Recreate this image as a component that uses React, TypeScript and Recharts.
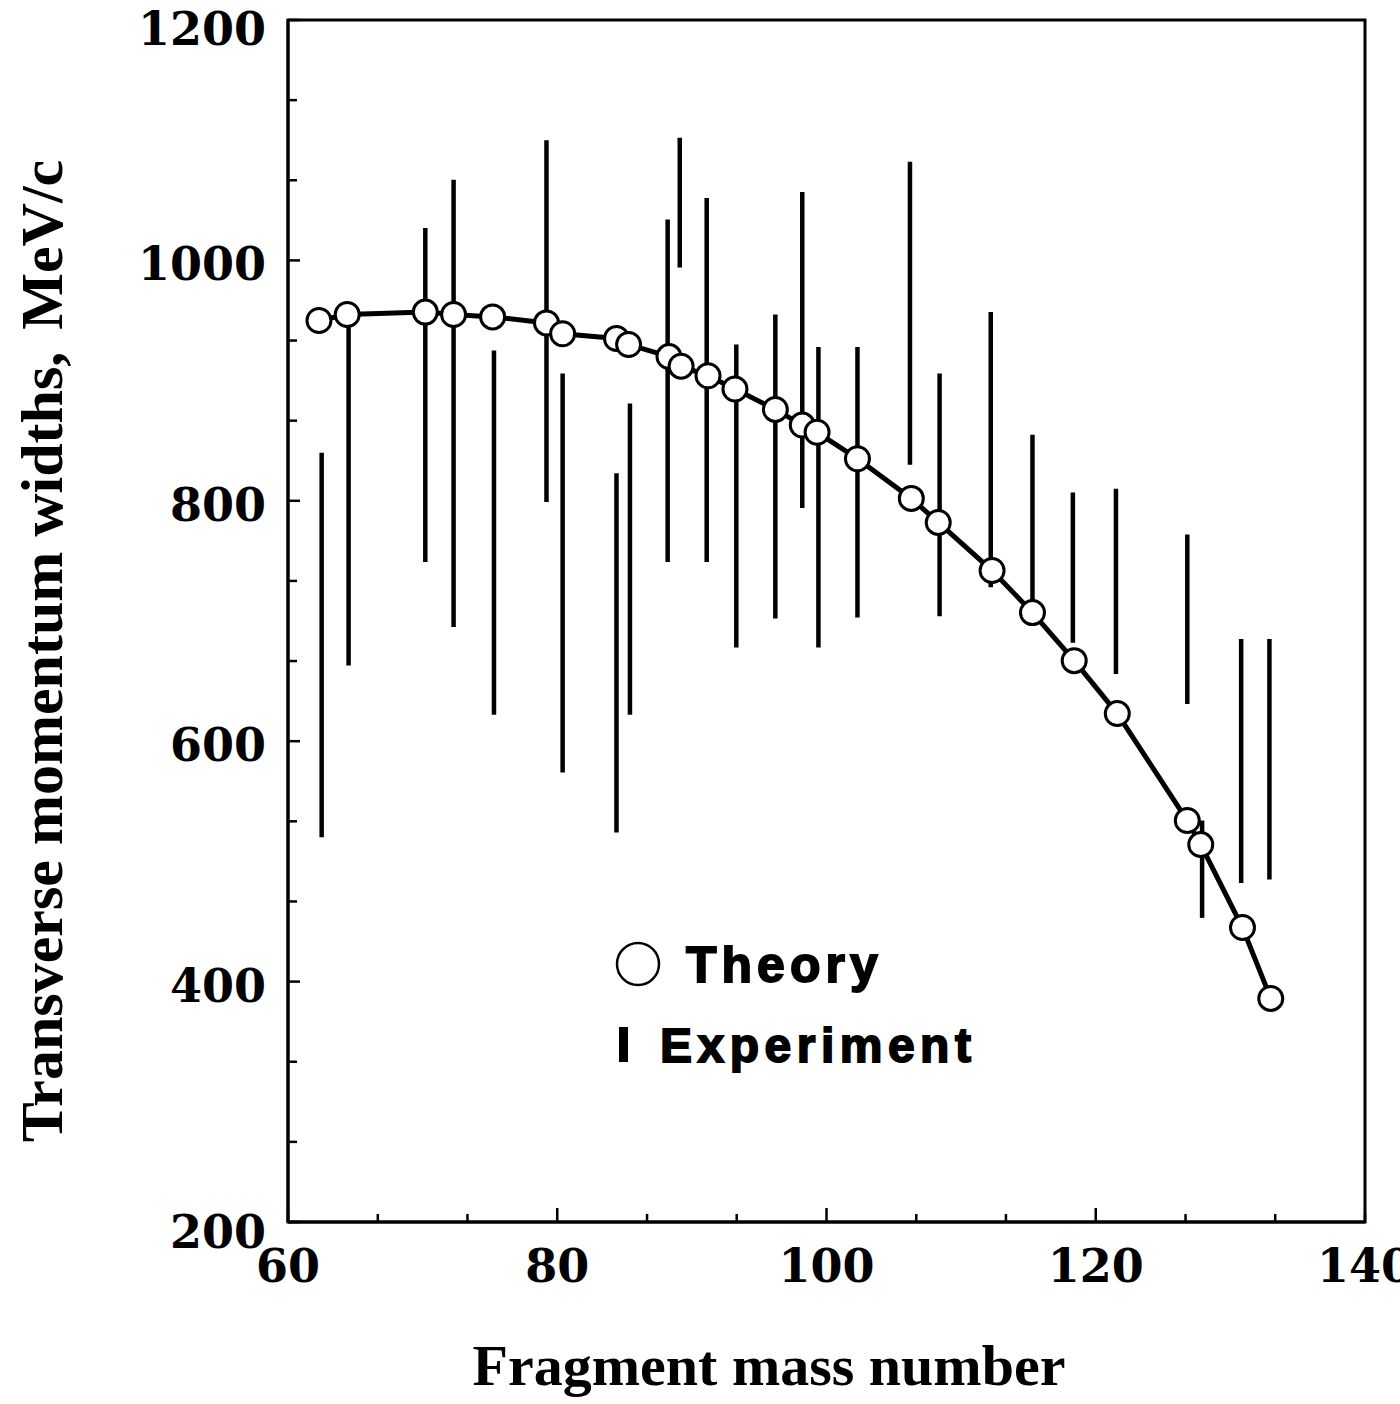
import { ComposedChart, Line, Scatter, ErrorBar, XAxis, YAxis, Legend, Label, ReferenceArea } from "recharts";

// theory (open circles joined by a line)
const theoryMass = [62.3, 64.4, 70.2, 72.3, 75.2, 79.2, 80.4, 84.4, 85.3, 88.3, 89.2, 91.2, 93.2, 96.2, 98.2, 99.3, 102.3, 106.3, 108.3, 112.3, 115.3, 118.4, 121.6, 126.8, 127.8, 130.9, 133.0];
const theoryWidth = [950, 955, 957, 955, 953, 948, 939, 935, 930, 920, 912, 904, 893, 876, 863, 857, 835, 802, 782, 742, 707, 667, 623, 534, 514, 445, 386];

// experiment (vertical bars, low..high)
const expMass = [62.5, 64.5, 70.2, 72.3, 75.3, 79.2, 80.4, 84.4, 85.4, 88.2, 89.1, 91.1, 93.3, 96.2, 98.2, 99.4, 102.3, 106.2, 108.4, 112.2, 115.3, 118.3, 121.5, 126.8, 127.9, 130.8, 132.9];
const expLow = [520, 663, 749, 695, 622, 799, 574, 524, 622, 749, 994, 749, 678, 702, 794, 678, 703, 830, 704, 728, 707, 682, 656, 631, 453, 482, 485];
const expHigh = [840, 945, 1027, 1067, 925, 1100, 906, 823, 881, 1034, 1102, 1052, 930, 955, 1057, 928, 928, 1082, 906, 957, 855, 807, 810, 772, 534, 685, 685];

const xTicks = [60, 66.67, 73.33, 80, 86.67, 93.33, 100, 106.67, 113.33, 120, 126.67, 133.33, 140];
const xLabels = [60, 80, 100, 120, 140];
const yTicks = [200, 266.67, 333.33, 400, 466.67, 533.33, 600, 666.67, 733.33, 800, 866.67, 933.33, 1000, 1066.67, 1133.33, 1200];
const yLabels = [200, 400, 600, 800, 1000, 1200];
const legendLabels = ["Theory", "Experiment"];

const theoryData = theoryMass.map((m, i) => ({ mass: m, width: theoryWidth[i] }));
const expData = expMass.map((m, i) => {
  const mid = (expLow[i] + expHigh[i]) / 2;
  return { mass: m, mid, err: [mid - expLow[i], expHigh[i] - mid] };
});

const tickFont = { fontFamily: "'DejaVu Serif', serif", fontWeight: 700, fontSize: 46, fill: "#000" };
const titleFont = { fontFamily: "'Liberation Serif', serif", fontWeight: 700, fill: "#000" };

const XTick = ({ x, y, payload }: any) => {
  const v = payload.value;
  const major = xLabels.includes(v);
  return (
    <g>
      <line x1={x} x2={x} y1={y} y2={y - (major && v !== 60 && v !== 140 ? 14 : 8)} stroke="#000" strokeWidth={2.5} />
      {major && (
        <text x={x} y={y + 60} textAnchor="middle" {...tickFont}>
          {v}
        </text>
      )}
    </g>
  );
};

const YTick = ({ x, y, payload }: any) => {
  const v = payload.value;
  const major = yLabels.includes(v);
  const dy = v === 200 ? 26 : v === 1200 ? 25 : 20;
  return (
    <g>
      <line x1={x} x2={x + (major ? 12 : 9)} y1={y} y2={y} stroke="#000" strokeWidth={2.5} />
      {major && (
        <text x={x - 22} y={y + dy} textAnchor="end" {...tickFont}>
          {v}
        </text>
      )}
    </g>
  );
};

const renderLegend = () => (
  <svg width={400} height={160}>
    <circle cx={38} cy={34} r={21} fill="#fff" stroke="#000" strokeWidth={2.5} />
    <text x={86} y={52} fontFamily="'Liberation Sans', Arial, sans-serif" fontWeight={700} fontSize={50}
      letterSpacing={5} stroke="#000" strokeWidth={1.8} fill="#000">
      {legendLabels[0]}
    </text>
    <rect x={19} y={97} width={9} height={35} fill="#000" />
    <text x={60} y={132} fontFamily="'Liberation Sans', Arial, sans-serif" fontWeight={700} fontSize={48}
      letterSpacing={5.5} stroke="#000" strokeWidth={1.8} fill="#000">
      {legendLabels[1]}
    </text>
  </svg>
);

export default function App() {
  return (
    <div style={{ position: "absolute", left: 0, top: 0, width: 1400, height: 1404, background: "#fff" }}>
      <ComposedChart width={1400} height={1404} margin={{ top: 20, right: 35, bottom: 0, left: 0 }}>
        <XAxis
          dataKey="mass"
          type="number"
          domain={[60, 140]}
          ticks={xTicks}
          interval={0}
          tickSize={0}
          tickMargin={0}
          tickLine={false}
          tick={<XTick />}
          height={182}
          axisLine={{ stroke: "#000", strokeWidth: 3 }}
        >
          <Label
            content={() => (
              <text x={769} y={1385} textAnchor="middle" fontSize={58} {...titleFont}>
                Fragment mass number
              </text>
            )}
          />
        </XAxis>
        <YAxis
          type="number"
          domain={[200, 1200]}
          ticks={yTicks}
          interval={0}
          tickSize={0}
          tickMargin={0}
          tickLine={false}
          tick={<YTick />}
          width={288}
          axisLine={{ stroke: "#000", strokeWidth: 3 }}
        >
          <Label
            content={() => (
              <text x={62} y={651} textAnchor="middle" fontSize={60} transform="rotate(-90 62 651)" {...titleFont}>
                Transverse momentum widths,<tspan dx={22}>MeV/c</tspan>
              </text>
            )}
          />
        </YAxis>
        <ReferenceArea x1={60} x2={140} y1={200} y2={1200} fill="none" fillOpacity={0} stroke="#000" strokeWidth={3} />
        <Line
          data={theoryData}
          dataKey="width"
          name={legendLabels[0]}
          type="linear"
          stroke="#000"
          strokeWidth={5}
          dot={{ r: 12, fill: "#fff", stroke: "#000", strokeWidth: 3 }}
          isAnimationActive={false}
        />
        <Scatter data={expData} dataKey="mid" name={legendLabels[1]} shape={() => <g />} isAnimationActive={false}>
          <ErrorBar dataKey="err" direction="y" width={0} stroke="#000" strokeWidth={4.5} isAnimationActive={false} />
        </Scatter>
        <Legend
          layout="vertical"
          align="center"
          verticalAlign="middle"
          content={renderLegend}
          wrapperStyle={{ left: 600, top: 930, width: 400, height: 160 }}
        />
      </ComposedChart>
    </div>
  );
}
